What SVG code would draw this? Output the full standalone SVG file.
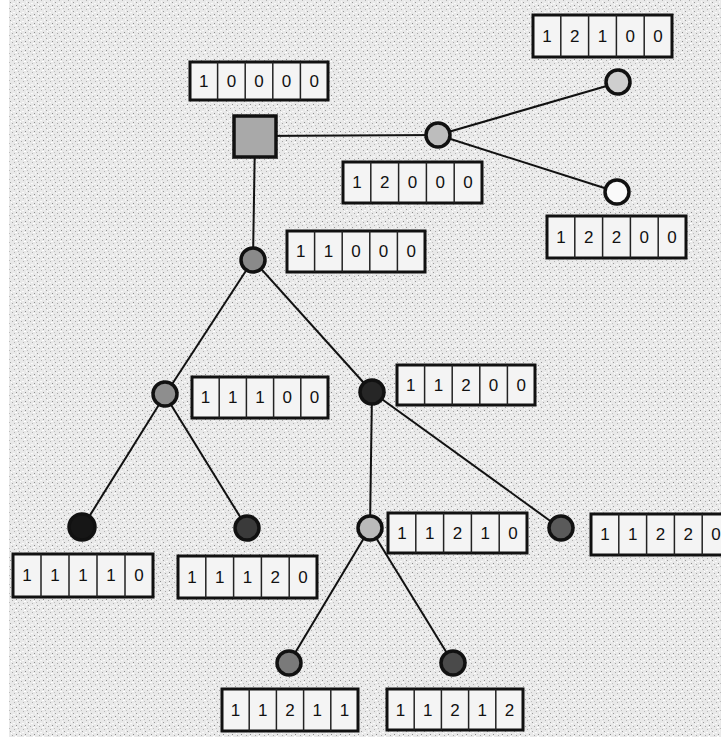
<svg xmlns="http://www.w3.org/2000/svg" width="721" height="740" viewBox="0 0 721 740">
<style>
.bx{fill:#f4f4f4;stroke:#111;stroke-width:3}
.dv{stroke:#222;stroke-width:1.5}
.d{font-family:"Liberation Sans",Arial,sans-serif;font-size:17px;fill:#111;text-anchor:middle}
.n{stroke:#111;stroke-width:3.5}
.e{stroke:#111;stroke-width:2;fill:none}
</style>
<defs>
<pattern id="spk" width="9" height="9" patternUnits="userSpaceOnUse">
<rect width="9" height="9" fill="#e9e9e9"/>
<rect x="1" y="2" width="1" height="1" fill="#9a9a9a"/>
<rect x="5" y="0" width="1" height="1" fill="#b0b0b0"/>
<rect x="7" y="5" width="1" height="1" fill="#8c8c8c"/>
<rect x="3" y="6" width="1" height="1" fill="#a8a8a8"/>
<rect x="0" y="8" width="1" height="1" fill="#bdbdbd"/>
<rect x="4" y="3" width="2" height="1" fill="#fafafa"/>
<rect x="8" y="1" width="1" height="2" fill="#f6f6f6"/>
<rect x="2" y="4" width="1" height="1" fill="#ffffff"/>
<rect x="6" y="7" width="2" height="1" fill="#ffffff"/>
</pattern>
</defs>
<rect width="721" height="740" fill="#fff"/>
<rect x="9" y="0" width="712" height="737" fill="url(#spk)"/>
<g id="connectors">
<line class="e" x1="255" y1="136" x2="438" y2="135"/>
<line class="e" x1="438" y1="135" x2="617" y2="83"/>
<line class="e" x1="438" y1="135" x2="617" y2="192"/>
<line class="e" x1="255" y1="136" x2="253" y2="260"/>
<line class="e" x1="253" y1="260" x2="165" y2="395"/>
<line class="e" x1="253" y1="260" x2="372" y2="392"/>
<line class="e" x1="165" y1="395" x2="82" y2="528"/>
<line class="e" x1="165" y1="395" x2="247" y2="528"/>
<line class="e" x1="372" y1="392" x2="370" y2="528"/>
<line class="e" x1="372" y1="392" x2="560" y2="528"/>
<line class="e" x1="370" y1="528" x2="289" y2="663"/>
<line class="e" x1="370" y1="528" x2="453" y2="663"/>
</g>
<g id="n10000">
<rect class="n" x="234" y="116" width="42" height="41" fill="#a9a9a9"/>
<rect class="bx" x="190" y="62" width="138" height="38"/>
<line class="dv" x1="217.6" y1="62" x2="217.6" y2="100"/><line class="dv" x1="245.2" y1="62" x2="245.2" y2="100"/><line class="dv" x1="272.8" y1="62" x2="272.8" y2="100"/><line class="dv" x1="300.4" y1="62" x2="300.4" y2="100"/>
<text class="d" x="203.8" y="87">1</text><text class="d" x="231.4" y="87">0</text><text class="d" x="259" y="87">0</text><text class="d" x="286.6" y="87">0</text><text class="d" x="314.2" y="87">0</text>
</g>
<g id="n12000">
<circle class="n" cx="438" cy="135" r="12" fill="#bdbdbd"/>
<rect class="bx" x="343" y="162" width="139" height="41"/>
<line class="dv" x1="370.8" y1="162" x2="370.8" y2="203"/><line class="dv" x1="398.6" y1="162" x2="398.6" y2="203"/><line class="dv" x1="426.4" y1="162" x2="426.4" y2="203"/><line class="dv" x1="454.2" y1="162" x2="454.2" y2="203"/>
<text class="d" x="356.9" y="188">1</text><text class="d" x="384.7" y="188">2</text><text class="d" x="412.5" y="188">0</text><text class="d" x="440.3" y="188">0</text><text class="d" x="468.1" y="188">0</text>
</g>
<g id="n12100">
<circle class="n" cx="618" cy="82" r="12" fill="#cfcfcf"/>
<rect class="bx" x="533" y="15" width="139" height="42"/>
<line class="dv" x1="560.8" y1="15" x2="560.8" y2="57"/><line class="dv" x1="588.6" y1="15" x2="588.6" y2="57"/><line class="dv" x1="616.4" y1="15" x2="616.4" y2="57"/><line class="dv" x1="644.2" y1="15" x2="644.2" y2="57"/>
<text class="d" x="546.9" y="42">1</text><text class="d" x="574.7" y="42">2</text><text class="d" x="602.5" y="42">1</text><text class="d" x="630.3" y="42">0</text><text class="d" x="658.1" y="42">0</text>
</g>
<g id="n12200">
<circle class="n" cx="617" cy="192" r="12" fill="#fafafa"/>
<rect class="bx" x="547" y="216" width="139" height="42"/>
<line class="dv" x1="574.8" y1="216" x2="574.8" y2="258"/><line class="dv" x1="602.6" y1="216" x2="602.6" y2="258"/><line class="dv" x1="630.4" y1="216" x2="630.4" y2="258"/><line class="dv" x1="658.2" y1="216" x2="658.2" y2="258"/>
<text class="d" x="560.9" y="243">1</text><text class="d" x="588.7" y="243">2</text><text class="d" x="616.5" y="243">2</text><text class="d" x="644.3" y="243">0</text><text class="d" x="672.1" y="243">0</text>
</g>
<g id="n11000">
<circle class="n" cx="253" cy="260" r="12" fill="#8a8a8a"/>
<rect class="bx" x="287" y="231" width="138" height="41"/>
<line class="dv" x1="314.6" y1="231" x2="314.6" y2="272"/><line class="dv" x1="342.2" y1="231" x2="342.2" y2="272"/><line class="dv" x1="369.8" y1="231" x2="369.8" y2="272"/><line class="dv" x1="397.4" y1="231" x2="397.4" y2="272"/>
<text class="d" x="300.8" y="257">1</text><text class="d" x="328.4" y="257">1</text><text class="d" x="356" y="257">0</text><text class="d" x="383.6" y="257">0</text><text class="d" x="411.2" y="257">0</text>
</g>
<g id="n11100">
<circle class="n" cx="165" cy="394" r="12" fill="#8e8e8e"/>
<rect class="bx" x="192" y="377" width="136" height="41"/>
<line class="dv" x1="219.2" y1="377" x2="219.2" y2="418"/><line class="dv" x1="246.4" y1="377" x2="246.4" y2="418"/><line class="dv" x1="273.6" y1="377" x2="273.6" y2="418"/><line class="dv" x1="300.8" y1="377" x2="300.8" y2="418"/>
<text class="d" x="205.6" y="403">1</text><text class="d" x="232.8" y="403">1</text><text class="d" x="260" y="403">1</text><text class="d" x="287.2" y="403">0</text><text class="d" x="314.4" y="403">0</text>
</g>
<g id="n11200">
<circle class="n" cx="372" cy="392" r="12" fill="#262626"/>
<rect class="bx" x="397" y="365" width="138" height="40"/>
<line class="dv" x1="424.6" y1="365" x2="424.6" y2="405"/><line class="dv" x1="452.2" y1="365" x2="452.2" y2="405"/><line class="dv" x1="479.8" y1="365" x2="479.8" y2="405"/><line class="dv" x1="507.4" y1="365" x2="507.4" y2="405"/>
<text class="d" x="410.8" y="391">1</text><text class="d" x="438.4" y="391">1</text><text class="d" x="466" y="391">2</text><text class="d" x="493.6" y="391">0</text><text class="d" x="521.2" y="391">0</text>
</g>
<g id="n11110">
<circle class="n" cx="82" cy="527" r="13" fill="#161616"/>
<rect class="bx" x="13" y="554" width="140" height="43"/>
<line class="dv" x1="41" y1="554" x2="41" y2="597"/><line class="dv" x1="69" y1="554" x2="69" y2="597"/><line class="dv" x1="97" y1="554" x2="97" y2="597"/><line class="dv" x1="125" y1="554" x2="125" y2="597"/>
<text class="d" x="27" y="581">1</text><text class="d" x="55" y="581">1</text><text class="d" x="83" y="581">1</text><text class="d" x="111" y="581">1</text><text class="d" x="139" y="581">0</text>
</g>
<g id="n11120">
<circle class="n" cx="247" cy="528" r="12" fill="#3a3a3a"/>
<rect class="bx" x="178" y="556" width="139" height="42"/>
<line class="dv" x1="205.8" y1="556" x2="205.8" y2="598"/><line class="dv" x1="233.6" y1="556" x2="233.6" y2="598"/><line class="dv" x1="261.4" y1="556" x2="261.4" y2="598"/><line class="dv" x1="289.2" y1="556" x2="289.2" y2="598"/>
<text class="d" x="191.9" y="583">1</text><text class="d" x="219.7" y="583">1</text><text class="d" x="247.5" y="583">1</text><text class="d" x="275.3" y="583">2</text><text class="d" x="303.1" y="583">0</text>
</g>
<g id="n11210">
<circle class="n" cx="370" cy="528" r="12" fill="#bababa"/>
<rect class="bx" x="388" y="513" width="139" height="40"/>
<line class="dv" x1="415.8" y1="513" x2="415.8" y2="553"/><line class="dv" x1="443.6" y1="513" x2="443.6" y2="553"/><line class="dv" x1="471.4" y1="513" x2="471.4" y2="553"/><line class="dv" x1="499.2" y1="513" x2="499.2" y2="553"/>
<text class="d" x="401.9" y="539">1</text><text class="d" x="429.7" y="539">1</text><text class="d" x="457.5" y="539">2</text><text class="d" x="485.3" y="539">1</text><text class="d" x="513.1" y="539">0</text>
</g>
<g id="n11220">
<circle class="n" cx="561" cy="528" r="12" fill="#5a5a5a"/>
<rect class="bx" x="591" y="514" width="139" height="41"/>
<line class="dv" x1="618.8" y1="514" x2="618.8" y2="555"/><line class="dv" x1="646.6" y1="514" x2="646.6" y2="555"/><line class="dv" x1="674.4" y1="514" x2="674.4" y2="555"/><line class="dv" x1="702.2" y1="514" x2="702.2" y2="555"/>
<text class="d" x="604.9" y="540">1</text><text class="d" x="632.7" y="540">1</text><text class="d" x="660.5" y="540">2</text><text class="d" x="688.3" y="540">2</text><text class="d" x="716.1" y="540">0</text>
</g>
<g id="n11211">
<circle class="n" cx="289" cy="663" r="12" fill="#7a7a7a"/>
<rect class="bx" x="222" y="689" width="136" height="42"/>
<line class="dv" x1="249.2" y1="689" x2="249.2" y2="731"/><line class="dv" x1="276.4" y1="689" x2="276.4" y2="731"/><line class="dv" x1="303.6" y1="689" x2="303.6" y2="731"/><line class="dv" x1="330.8" y1="689" x2="330.8" y2="731"/>
<text class="d" x="235.6" y="716">1</text><text class="d" x="262.8" y="716">1</text><text class="d" x="290" y="716">2</text><text class="d" x="317.2" y="716">1</text><text class="d" x="344.4" y="716">1</text>
</g>
<g id="n11212">
<circle class="n" cx="453" cy="663" r="12" fill="#4a4a4a"/>
<rect class="bx" x="387" y="689" width="136" height="41"/>
<line class="dv" x1="414.2" y1="689" x2="414.2" y2="730"/><line class="dv" x1="441.4" y1="689" x2="441.4" y2="730"/><line class="dv" x1="468.6" y1="689" x2="468.6" y2="730"/><line class="dv" x1="495.8" y1="689" x2="495.8" y2="730"/>
<text class="d" x="400.6" y="716">1</text><text class="d" x="427.8" y="716">1</text><text class="d" x="455" y="716">2</text><text class="d" x="482.2" y="716">1</text><text class="d" x="509.4" y="716">2</text>
</g>
</svg>
